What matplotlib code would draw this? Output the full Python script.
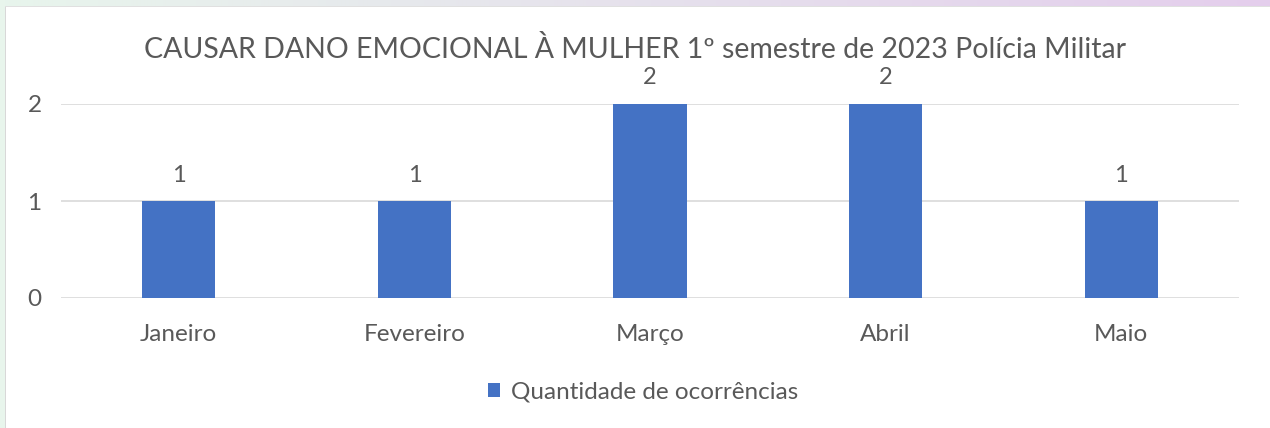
import matplotlib
matplotlib.use("Agg")
import matplotlib.pyplot as plt
import numpy as np

# chart data
meses = ["Janeiro", "Fevereiro", "Março", "Abril", "Maio"]
ocorrencias = [1, 1, 2, 2, 1]
titulo = "CAUSAR DANO EMOCIONAL À MULHER 1º semestre de 2023 Polícia Militar"
serie = "Quantidade de ocorrências"

plt.rcParams['font.family'] = ['Lato', 'DejaVu Sans']
cinza = "#595959"
azul = "#4472C4"

W, H = 1270, 428
fig = plt.figure(figsize=(W / 100, H / 100), dpi=100)

# background: green/purple strip on top, green strip on the left
bg = np.ones((H, W, 3))
verde = np.array([232, 245, 236]) / 255
roxo = np.array([228, 206, 236]) / 255
t = np.linspace(0, 1, W)[:, None]
bg[:6, :, :] = (verde * (1 - t) + roxo * t)[None, :, :]
bg[:, :5, :] = verde
bg[6:, 5, :] = 0.85
bg[6, 5:, :] = 0.88
axbg = fig.add_axes([0, 0, 1, 1], zorder=-1)
axbg.imshow(bg, aspect='auto', interpolation='nearest')
axbg.axis('off')

ax = fig.add_axes([61 / W, 1 - 298 / H, (1239 - 61) / W, (298 - 104) / H])
x = np.arange(len(meses))
barras = ax.bar(x, ocorrencias, width=0.31, color=azul, label=serie, zorder=3)
ax.set_xlim(-0.5, len(meses) - 0.5)
ax.set_ylim(0, 2)
ax.set_yticks([0, 1, 2])
ax.set_xticks(x)
ax.set_xticklabels(meses)
ax.grid(axis='y', color="#D9D9D9", linewidth=1.2, zorder=0)
for s in ax.spines.values():
    s.set_visible(False)
ax.tick_params(length=0, labelsize=17.5, colors=cinza, pad=19)
ax.tick_params(axis='y', pad=14)
ax.patch.set_alpha(0)

for b, v in zip(barras, ocorrencias):
    ax.annotate(str(v), (b.get_x() + b.get_width() / 2, v), xytext=(0, 26),
                textcoords='offset pixels', ha='center', va='center',
                fontsize=17, color=cinza, annotation_clip=False)

fig.text(0.5, 1 - 49 / H, titulo, ha='center', va='center', fontsize=20.5, color=cinza)

leg = fig.legend(handles=[barras], labels=[serie], loc='center',
                 bbox_to_anchor=(643 / W, 1 - 392 / H), frameon=False,
                 fontsize=17.5, handlelength=0.5, handleheight=0.5,
                 handletextpad=0.45)
for txt in leg.get_texts():
    txt.set_color(cinza)

fig.savefig("out.png", dpi=100)
